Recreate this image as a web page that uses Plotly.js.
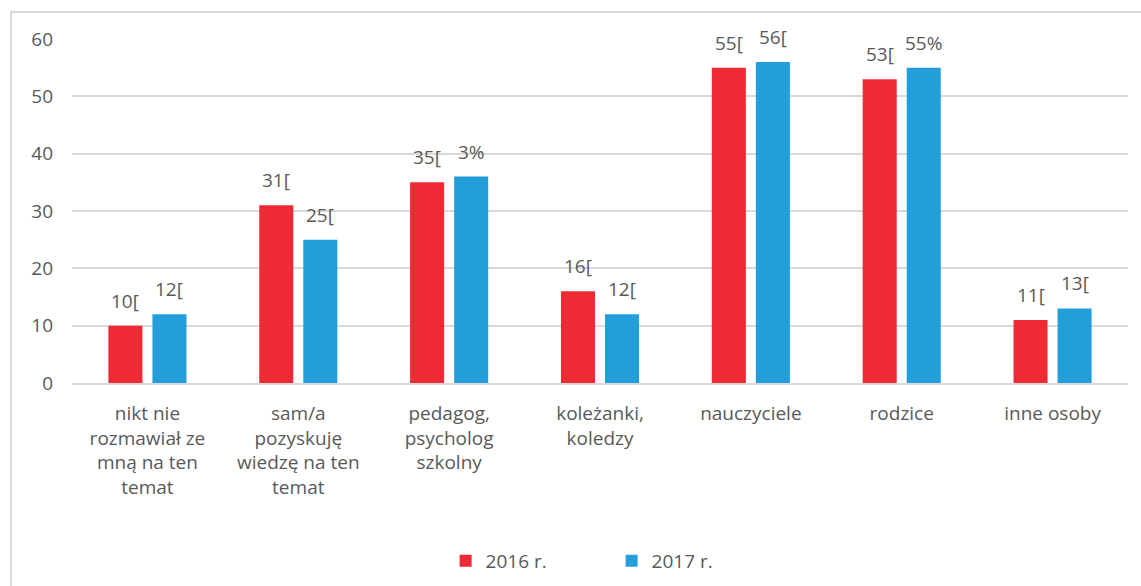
<!DOCTYPE html>
<html><head><meta charset="utf-8">
<script src="https://cdn.plot.ly/plotly-3.0.1.min.js"></script>
<style>
html,body{margin:0;padding:0;background:#fff;}
#wrap{position:relative;width:1141px;height:586px;}
#chart{position:absolute;left:0;top:0;width:1141px;height:586px;}
#frame{position:absolute;left:10px;top:11px;width:1131px;height:575px;border-left:2px solid #d9d9d9;border-top:2px solid #d9d9d9;pointer-events:none;box-sizing:border-box;}
</style>
</head><body>
<div id="wrap"><div id="chart"></div><div id="frame"></div></div>
<script>
const categories = [
  "nikt nie<br>rozmawiał ze<br>mną na ten<br>temat",
  "sam/a<br>pozyskuję<br>wiedzę na ten<br>temat",
  "pedagog,<br>psycholog<br>szkolny",
  "koleżanki,<br>koledzy",
  "nauczyciele",
  "rodzice",
  "inne osoby"
];
const series2016 = [10, 31, 35, 16, 55, 53, 11];
const series2017 = [12, 25, 36, 12, 56, 55, 13];
const labels2016 = ["10[", "31[", "35[", "16[", "55[", "53[", "11["];
const labels2017 = ["12[", "25[", "3%", "12[", "56[", "55%", "13["];
const yTicks = [0, 10, 20, 30, 40, 50, 60];

const fontFam = "'Open Sans', sans-serif";
const txtCol = "#595959";
const fs = 19;

const traces = [
  {type:'bar', name:'2016 r.', x:categories, y:series2016, marker:{color:'#ee2a35'}, hoverinfo:'none'},
  {type:'bar', name:'2017 r.', x:categories, y:series2017, marker:{color:'#229fda'}, hoverinfo:'none'}
];

const annotations = [];
categories.forEach((c,i)=>{
  annotations.push({x:c, y:series2016[i], text:labels2016[i], showarrow:false, xshift:-22, yshift:25, yanchor:'middle', font:{family:fontFam,size:fs,color:txtCol}});
  annotations.push({x:c, y:series2017[i], text:labels2017[i], showarrow:false, xshift:22, yshift:25, yanchor:'middle', font:{family:fontFam,size:fs,color:txtCol}});
});

const layout = {
  width:1141, height:586,
  margin:{l:72, r:13, t:39, b:203, autoexpand:false},
  paper_bgcolor:'#fff', plot_bgcolor:'#fff',
  barmode:'group', bargap:0.416, bargroupgap:0.227,
  font:{family:fontFam, size:fs, color:txtCol},
  showlegend:true,
  legend:{orientation:'h', x:0.511, xanchor:'center', yref:'container', y:0.043, yanchor:'middle', font:{family:fontFam,size:fs,color:txtCol}, itemwidth:30, entrywidth:121, entrywidthmode:'pixels', traceorder:'normal'},
  xaxis:{type:'category', automargin:false, showgrid:false, showline:true, linecolor:'#d9d9d9', linewidth:2, ticks:'', tickfont:{family:fontFam,size:fs,color:txtCol}, ticklabelstandoff:12, fixedrange:true},
  yaxis:{range:[0,60], automargin:false, tickvals:yTicks, ticktext:yTicks.map(String), showgrid:true, gridcolor:'#d9d9d9', gridwidth:2, zeroline:false, showline:false, tickfont:{family:fontFam,size:fs,color:txtCol}, ticklabelstandoff:18, fixedrange:true},
  annotations:annotations
};

Plotly.newPlot('chart', traces, layout, {displayModeBar:false, staticPlot:true});
</script>
</body></html>
